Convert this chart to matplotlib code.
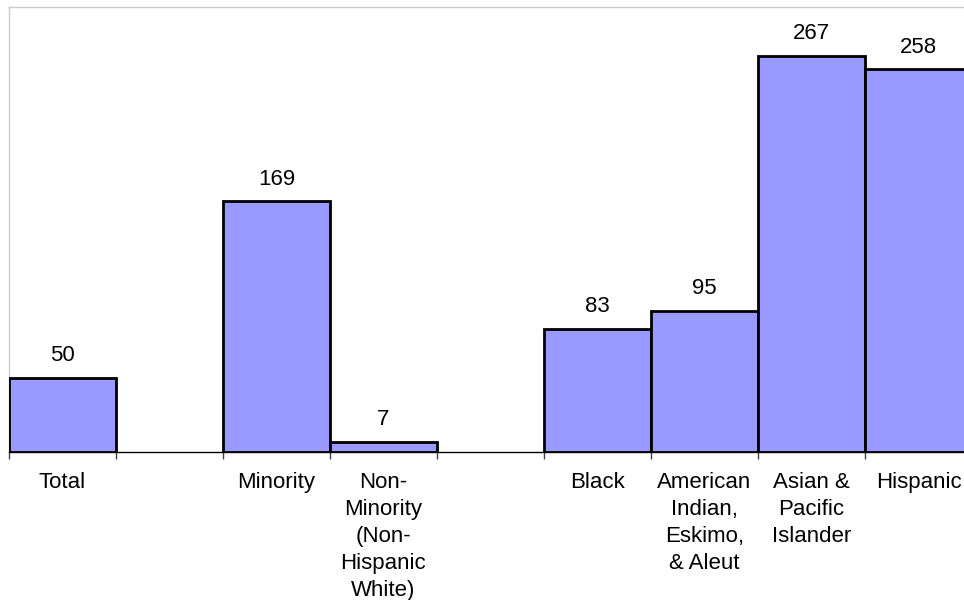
import matplotlib
matplotlib.use("Agg")
import matplotlib.pyplot as plt

categories = ["Total", "", "Minority", "Non-\nMinority\n(Non-\nHispanic\nWhite)", "",
              "Black", "American\nIndian,\nEskimo,\n& Aleut", "Asian &\nPacific\nIslander", "Hispanic"]
values = [50, None, 169, 7, None, 83, 95, 267, 258]

plt.rcParams['font.family'] = ['Liberation Sans', 'DejaVu Sans']

W, H = 964, 600
fig = plt.figure(figsize=(W / 100, H / 100), dpi=100)
left_px, top_px, bottom_px = 9, 7, 452
slot_px = 107
n = len(categories)
ax = fig.add_axes([left_px / W, 1 - bottom_px / H, n * slot_px / W, (bottom_px - top_px) / H])

FS = 16
xs = list(range(n))
for x, v in zip(xs, values):
    if v is None:
        continue
    ax.bar(x, v, width=1.0, color="#9999FF", edgecolor="black", linewidth=2, zorder=3)
    ax.text(x, v + 11.2, str(v), ha="center", va="baseline", fontsize=FS)

ax.set_xlim(-0.5, n - 0.5)
ax.set_ylim(0, 300)
ax.set_yticks([])
ax.set_xticks([i - 0.5 for i in range(n + 1)])
ax.set_xticklabels([])
ax.tick_params(axis="x", direction="out", length=5, width=1, color="#444444")
for x, lab in zip(xs, categories):
    if lab:
        ax.text(x, -13.5, lab, ha="center", va="top", fontsize=FS, linespacing=1.38)

for s in ["top", "left", "right"]:
    ax.spines[s].set_color("#cccccc")
    ax.spines[s].set_linewidth(1)
ax.spines["bottom"].set_color("black")
ax.spines["bottom"].set_linewidth(1)

fig.savefig("out.png", dpi=100)
